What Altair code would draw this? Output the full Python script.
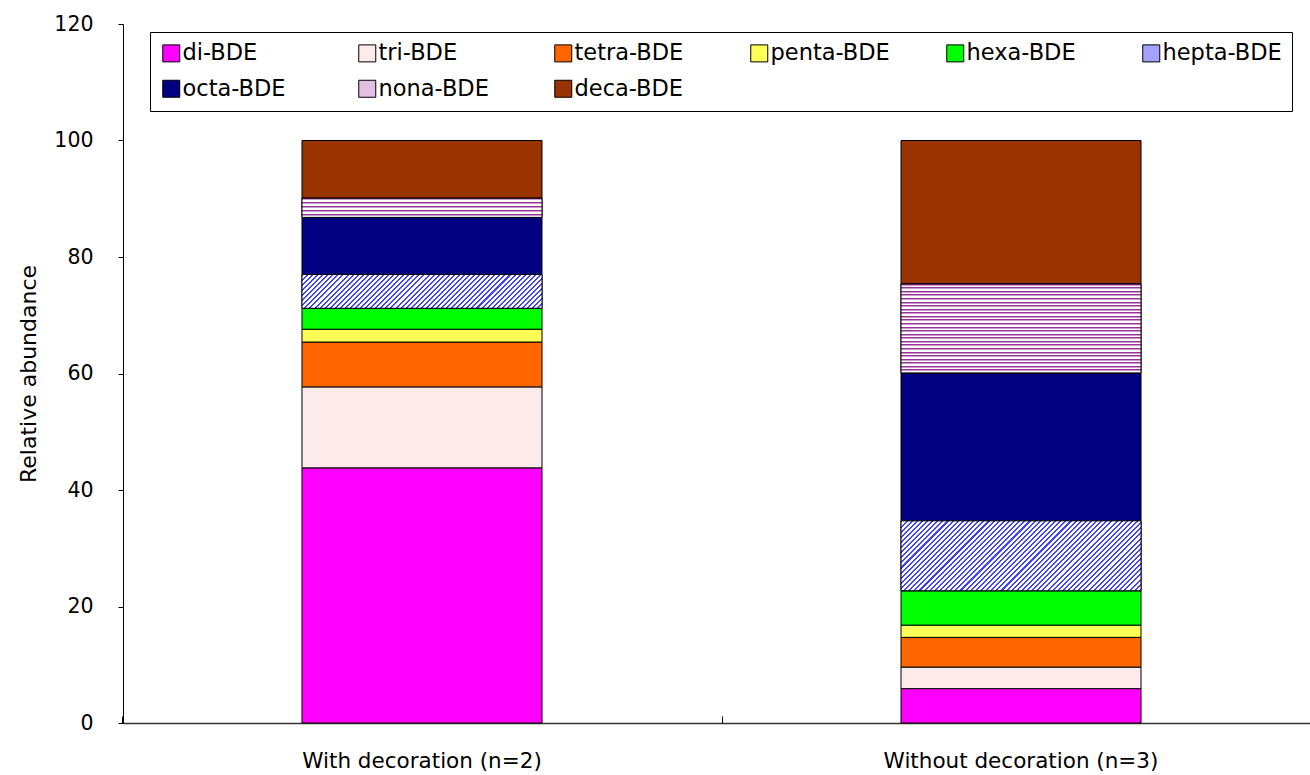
import math
import altair as alt
import pandas as pd

# ---------------- data ----------------
groups = ["With decoration (n=2)", "Without decoration (n=3)"]
congeners = ["di-BDE", "tri-BDE", "tetra-BDE", "penta-BDE", "hexa-BDE",
             "hepta-BDE", "octa-BDE", "nona-BDE", "deca-BDE"]
with_decoration = [43.8, 13.9, 7.7, 2.2, 3.6, 5.8, 9.8, 3.3, 9.9]
without_decoration = [5.9, 3.7, 5.1, 2.1, 5.9, 12.0, 25.4, 15.3, 24.6]
y_ticks = [0, 20, 40, 60, 80, 100, 120]
colors = ["#ff00ff", "#fdeaea", "#ff6600", "#ffff55", "#00ff00",
          "#a3a3ff", "#000080", "#e2c0e2", "#993300"]

rows = []
for g, vals in zip(groups, [with_decoration, without_decoration]):
    for i, (c, v) in enumerate(zip(congeners, vals)):
        rows.append({"group": g, "congener": c, "order": i, "value": v})
df = pd.DataFrame(rows)

# ---------------- layout ----------------
PLOT_W, PLOT_H = 1187, 699
STEP, BAR_W = 599, 240
PX_PER_UNIT = PLOT_H / 120
FONT = "DejaVu Sans"

xscale = alt.Scale(domain=groups, paddingInner=1 - BAR_W / STEP,
                   paddingOuter=0.29045, align=0.5144)
yscale = alt.Scale(domain=[0, 120], nice=False, zero=True)

yaxis = alt.Axis(values=y_ticks, tickSize=5, tickColor="black", tickWidth=1,
                 domainColor="black", domainWidth=1, labelPadding=25,
                 labelFont=FONT, labelFontSize=20.5, labelColor="black",
                 grid=False, title="Relative abundance", titleFont=FONT,
                 titleFontSize=22, titleFontWeight="normal", titleColor="black",
                 titlePadding=13)

xaxis_bottom = alt.Axis(orient="bottom", title=None, labelAngle=0, ticks=False,
                        labelPadding=27, labelFont=FONT, labelFontSize=21.5,
                        labelColor="black", domainColor="#333333", domainWidth=1.5,
                        labelLimit=400)

xaxis_tick = alt.Axis(orient="top", offset=-PLOT_H, title=None, labels=False,
                      domain=False, ticks=True, tickSize=7, tickColor="black",
                      tickWidth=1, bandPosition=0, tickOffset=-(STEP - BAR_W) / 2)

legend = alt.Legend(orient="none", legendX=27, legendY=8, direction="horizontal",
                    columns=6, gridAlign="all", columnPadding=54, rowPadding=12.5,
                    padding=10, strokeColor="black", fillColor="white",
                    symbolType="square", symbolSize=289, symbolStrokeColor="black",
                    symbolStrokeWidth=1, symbolOpacity=1, labelFont=FONT,
                    labelFontSize=22.5, labelColor="black", labelOffset=0,
                    labelLimit=300, title=None)

base = alt.Chart(df).transform_stack(
    stack="value", groupby=["group"], as_=["y0", "y1"],
    sort=[alt.SortField("order", "ascending")])


def xenc(axis):
    return alt.X("group:N", scale=xscale, sort=groups, axis=axis)


bars = base.mark_bar(stroke="black", strokeWidth=1).encode(
    x=xenc(xaxis_bottom),
    y=alt.Y("y0:Q", scale=yscale, axis=yaxis),
    y2="y1:Q",
    color=alt.Color("congener:N", scale=alt.Scale(domain=congeners, range=colors),
                    legend=legend),
)


def stripe_stops(n, pattern):
    stops = []
    for i in range(n):
        acc = 0.0
        for color, frac in pattern:
            start = (i + acc) / n
            acc += frac
            end = (i + acc) / n
            stops.append({"offset": round(start, 6), "color": color})
            stops.append({"offset": round(min(end, 1.0), 6), "color": color})
    return stops


def value_of(group, congener):
    vals = with_decoration if group == groups[0] else without_decoration
    return vals[congeners.index(congener)]


def horiz_stripes(group, congener):
    h = value_of(group, congener) * PX_PER_UNIT
    n = max(1, round(h / 3.5))
    return {"gradient": "linear", "x1": 0, "y1": 0, "x2": 0, "y2": 1,
            "stops": stripe_stops(n, [("#993399", 0.28), ("#cc99cc", 0.28),
                                      ("#ffffff", 0.44)])}


def diag_hatch(group, congener):
    h = value_of(group, congener) * PX_PER_UNIT
    r = h / BAR_W
    k = 1.22
    period = 3.6
    n = max(1, round(BAR_W * k * (1 + r * r) / (period * math.sqrt(2))))
    return {"gradient": "linear", "x1": 0, "y1": 0, "x2": k, "y2": k * r,
            "stops": stripe_stops(n, [("#4040ff", 0.4), ("#ffffff", 0.6)])}


def overlay(group, congener, fill):
    return base.transform_filter(
        (alt.datum.group == group) & (alt.datum.congener == congener)
    ).mark_bar(fill=fill, stroke="black", strokeWidth=1).encode(
        x=xenc(None),
        y=alt.Y("y0:Q", scale=yscale, axis=yaxis),
        y2="y1:Q",
    )


layers = [bars]
for g in groups:
    layers.append(overlay(g, "hepta-BDE", diag_hatch(g, "hepta-BDE")))
    layers.append(overlay(g, "nona-BDE", horiz_stripes(g, "nona-BDE")))

tick_layer = base.mark_bar(opacity=0).encode(
    x=xenc(xaxis_tick),
    y=alt.Y("y0:Q", scale=yscale, axis=yaxis),
    y2="y1:Q",
)
layers.append(tick_layer)

chart = alt.layer(*layers).resolve_axis(x="independent").properties(
    width=PLOT_W, height=PLOT_H,
    padding={"left": 123, "top": 24, "right": 0, "bottom": 52},
    autosize=alt.AutoSizeParams(type="none"),
    background="white",
).configure_view(stroke="transparent")

chart.save("out.html", embed_options={"renderer": "svg", "actions": False})
